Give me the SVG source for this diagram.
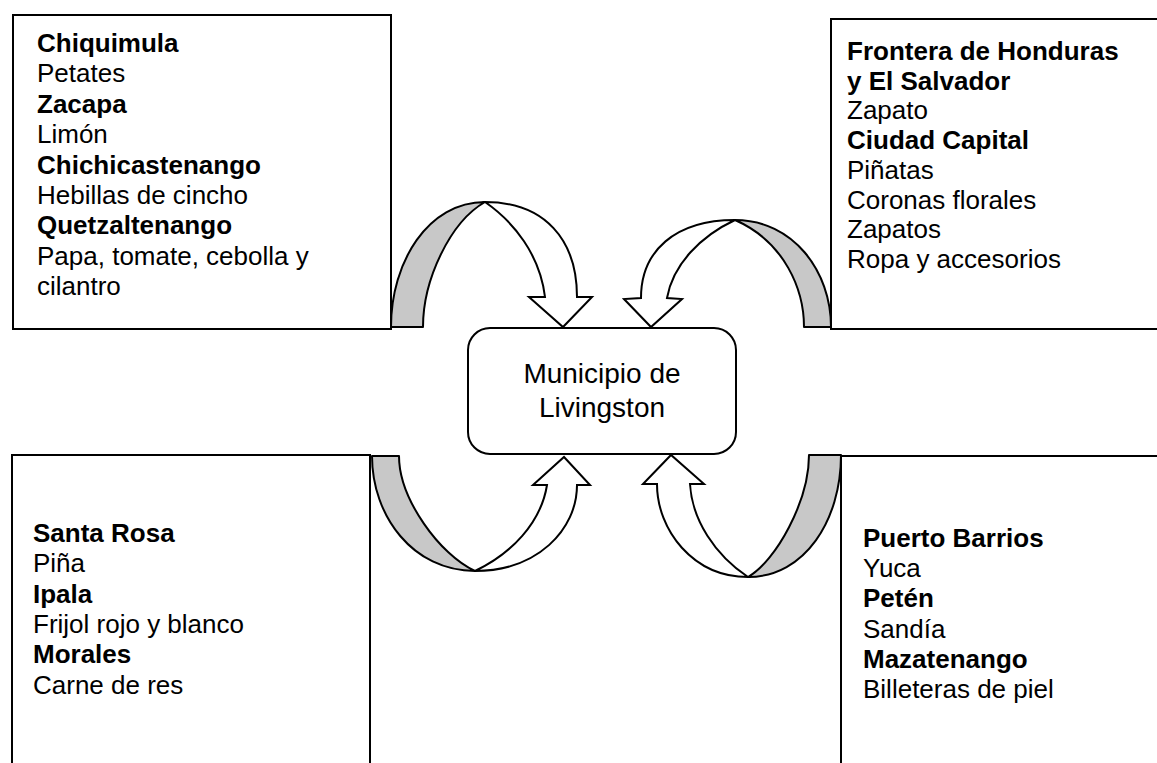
<svg xmlns="http://www.w3.org/2000/svg" width="1157" height="763" viewBox="0 0 1157 763">
<style>
.box{fill:none;stroke:#000;stroke-width:2}
.cbox{fill:#fff;stroke:#000;stroke-width:2}
.back{fill:#c8c8c8;stroke:#000;stroke-width:2;stroke-linejoin:round}
.front{fill:#fff;stroke:#000;stroke-width:2;stroke-linejoin:miter}
text{font-family:"Liberation Sans",Arial,sans-serif;font-size:26px;fill:#000}
.b{font-weight:bold}
.c{font-size:28px;text-anchor:middle}
</style>
<rect width="1157" height="763" fill="#fff"/>
<g id="node-top-left">
<rect class="box" x="13" y="15" width="378" height="314"/>
<text x="37" y="52" class="b">Chiquimula</text>
<text x="37" y="82.4">Petates</text>
<text x="37" y="112.8" class="b">Zacapa</text>
<text x="37" y="143.2">Limón</text>
<text x="37" y="173.6" class="b">Chichicastenango</text>
<text x="37" y="204">Hebillas de cincho</text>
<text x="37" y="234.4" class="b">Quetzaltenango</text>
<text x="37" y="264.8">Papa, tomate, cebolla y</text>
<text x="37" y="295.2">cilantro</text>
</g>
<g id="node-top-right">
<path class="box" d="M1158,19 H831 V329 H1158"/>
<text x="847" y="60" class="b">Frontera de Honduras</text>
<text x="847" y="89.7" class="b">y El Salvador</text>
<text x="847" y="119.4">Zapato</text>
<text x="847" y="149.1" class="b">Ciudad Capital</text>
<text x="847" y="178.8">Piñatas</text>
<text x="847" y="208.5">Coronas florales</text>
<text x="847" y="238.2">Zapatos</text>
<text x="847" y="268">Ropa y accesorios</text>
</g>
<g id="node-bottom-left">
<path class="box" d="M12,764 V455 H370 V764"/>
<text x="33" y="542" class="b">Santa Rosa</text>
<text x="33" y="572.3">Piña</text>
<text x="33" y="602.6" class="b">Ipala</text>
<text x="33" y="632.9">Frijol rojo y blanco</text>
<text x="33" y="663.2" class="b">Morales</text>
<text x="33" y="693.5">Carne de res</text>
</g>
<g id="node-bottom-right">
<path class="box" d="M841,764 V456 H1158"/>
<text x="863" y="547" class="b">Puerto Barrios</text>
<text x="863" y="577.2">Yuca</text>
<text x="863" y="607.4" class="b">Petén</text>
<text x="863" y="637.6">Sandía</text>
<text x="863" y="667.8" class="b">Mazatenango</text>
<text x="863" y="698">Billeteras de piel</text>
</g>
<g id="node-center">
<rect class="cbox" x="468" y="328" width="268" height="126" rx="22" ry="22"/>
<text x="602" y="383" class="c">Municipio de</text>
<text x="602" y="417" class="c">Livingston</text>
</g>
<g id="connectors">
<g id="arrow-top-left">
<path class="back" d="M391,327 C391,262 428,202 485,202 C450,222 423,280 423,327 Z"/>
<path class="front" d="M485,202 C545,202 577,240 577,297 L592,297 L563,327 L529,297 L545,297 C540,255 514,222 485,202 Z"/>
</g>
<g id="arrow-top-right">
<path class="back" d="M831,327 C831,271 793,220 735,220 C785,242 804,290 804,327 Z"/>
<path class="front" d="M735,220 C675,220 641,251 641,298 L624,299 L651,327 L682,299 L667,298 C673,264 701,236 735,220 Z"/>
</g>
<g id="arrow-bottom-left">
<path class="back" d="M372,456 C372,516 413,571 475,571 C440,555 399,499 399,456 Z"/>
<path class="front" d="M475,571 C537,571 577,530 577,485 L590,485 L564,457 L533,485 L547,485 C541,523 511,554 475,571 Z"/>
</g>
<g id="arrow-bottom-right">
<path class="back" d="M841,455 C841,520 805,577 748,577 C776,561 809,501 809,455 Z"/>
<path class="front" d="M748,577 C693,577 657,530 657,484 L643,484 L671,455 L704,484 L690,484 C692,520 715,555 748,577 Z"/>
</g>
</g>
</svg>
